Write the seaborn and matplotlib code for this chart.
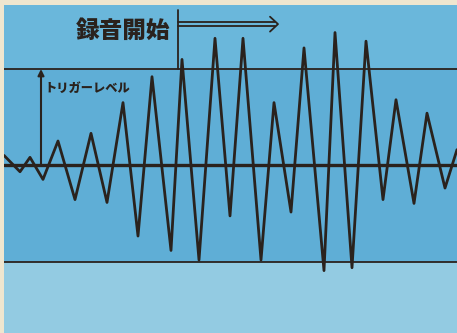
#!/usr/bin/env python3
"""
トリガー録音の波形イメージ図
"""

import matplotlib
matplotlib.use('Agg')

import matplotlib.pyplot as plt
import seaborn as sns
import pandas as pd

# 波形の山・谷（時間, 振幅; トリガーレベル = 1.0）
time = [4, 20, 30, 43, 58, 75, 91, 107, 123, 138, 152, 171, 182, 199, 215, 230,
        243, 261, 274, 291, 304, 324, 335, 352, 366, 383, 396, 414, 427, 445, 457]
amplitude = [0.10, -0.07, 0.08, -0.15, 0.25, -0.36, 0.33, -0.39, 0.65, -0.74,
             0.92, -0.89, 1.10, -0.99, 1.32, -0.53, 1.32, -0.99, 0.65, -0.49,
             1.22, -1.10, 1.38, -1.07, 1.29, -0.36, 0.68, -0.40, 0.54, -0.24, 0.16]

trigger_level = 1.0
lower_level = -1.01
rec_start = 178          # 録音開始の時刻

label_trigger = 'トリガーレベル'
label_start = '録音開始'

INK = '#2a221d'
BLUE = '#5faed6'
BLUE_TOP = '#6ab7db'
BLUE_LIGHT = '#93cbe2'
PAPER = '#efe6cf'

sns.set_theme(style='white')
plt.rcParams['font.family'] = ['Noto Sans CJK JP', 'DejaVu Sans']

W, H = 457, 333
fig = plt.figure(figsize=(W / 100, H / 100), dpi=100, facecolor=PAPER)
ax = fig.add_axes([4 / W, 0, 1 - 4 / W, 1 - 5 / H])
ax.set_xlim(4, 457)
ax.set_ylim(-1.75, 1.667)
ax.set_facecolor(BLUE)
for s in ax.spines.values():
    s.set_visible(False)
ax.set_xticks([])
ax.set_yticks([])

# 背景の帯
ax.axhspan(-1.75, lower_level, color=BLUE_LIGHT, lw=0, zorder=0)
ax.axhspan(trigger_level, 1.667, color=BLUE_TOP, lw=0, zorder=0)

# 基準線
ax.axhline(trigger_level, color=INK, lw=1.3, zorder=2)
ax.axhline(0, color=INK, lw=2.4, zorder=2)
ax.axhline(lower_level, color=INK, lw=1.3, zorder=2)

# 波形
df = pd.DataFrame({'time': time, 'amp': amplitude})
sns.lineplot(data=df, x='time', y='amp', sort=False, estimator=None,
             color=INK, lw=2.0, ax=ax, zorder=3)
for line in ax.get_lines():
    line.set_solid_joinstyle('round')
    line.set_solid_capstyle('round')

# トリガーレベル矢印
ax.annotate('', xy=(41, trigger_level), xytext=(41, 0),
            arrowprops=dict(arrowstyle='-|>', color=INK, lw=1.5,
                            mutation_scale=9, shrinkA=0, shrinkB=0), zorder=4)
ax.text(44, 0.80, label_trigger, fontsize=8.8, fontweight='heavy', color=INK,
        ha='left', va='center', zorder=4)

# 録音開始マーカー
ax.plot([rec_start, rec_start], [trigger_level, 1.61], color=INK, lw=1.3, zorder=4)
ax.plot([rec_start, 275], [1.49, 1.49], color=INK, lw=1.3, zorder=4)
ax.plot([rec_start, 275], [1.445, 1.445], color=INK, lw=1.3, zorder=4)
ax.plot([270, 278, 270], [1.545, 1.468, 1.39], color=INK, lw=1.3, zorder=4)
ax.text(170, 1.405, label_start, fontsize=17, fontweight='heavy', color=INK,
        ha='right', va='center', zorder=4)

fig.savefig('out.png', dpi=100, facecolor=PAPER)
